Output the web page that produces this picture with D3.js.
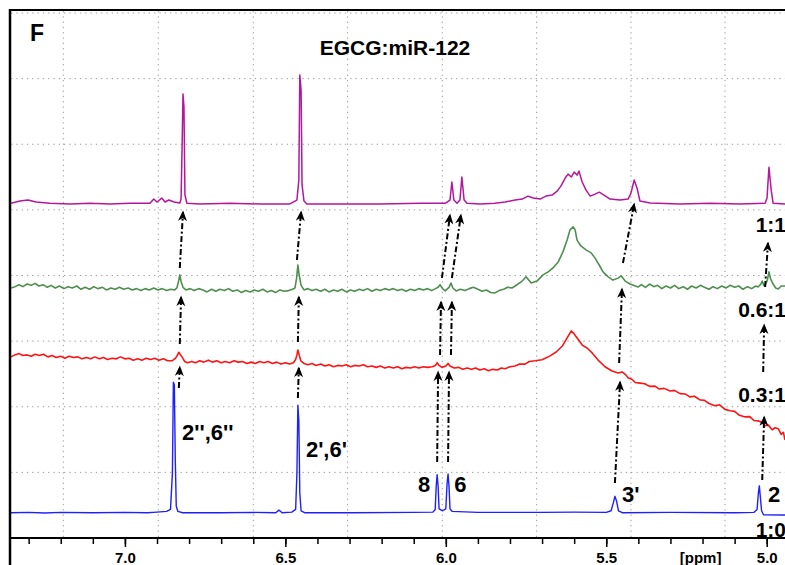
<!DOCTYPE html>
<html>
<head>
<meta charset="utf-8">
<script src="https://cdn.jsdelivr.net/npm/d3@7"></script>
<style>
  body { margin: 0; background: #fff; }
  svg { display: block; font-family: "Liberation Sans", Arial, sans-serif; }
</style>
</head>
<body>
<svg id="chart" width="785" height="565"></svg>
<script>
// spectra as [ppm, intensity] (intensity in grid units, relative to each trace's offset)
const spec10 = [
  [7.36,0],[7.30,0.05],[7.25,-0.05],[7.20,0.05],[7.10,0],[7.00,0.05],[6.93,0],[6.90,0.1],[6.87,0.2],
  [6.858,0.5],[6.852,6],[6.849,19.9],[6.846,19.5],[6.843,8],[6.840,1],[6.835,0.2],[6.82,0],[6.70,0],
  [6.60,0.05],[6.53,0],[6.52,0.4],[6.51,0],[6.48,0.1],[6.468,0.5],[6.464,6],[6.461,16.4],[6.458,14],
  [6.455,3],[6.451,0.3],[6.44,0],[6.30,0],[6.10,0.05],[6.04,0.1],[6.033,0.5],[6.030,4],[6.027,5.8],
  [6.024,4],[6.021,0.6],[6.010,0.3],[6.000,0.6],[5.996,4.5],[5.993,5.9],[5.990,4],[5.987,0.6],[5.98,0.2],
  [5.90,0.05],[5.70,0.05],[5.60,0.1],[5.50,0.05],[5.485,0.3],[5.478,1.5],[5.473,2.5],[5.468,1.8],
  [5.462,0.3],[5.45,0],[5.30,0.05],[5.10,0],[5.04,0.05],[5.03,0.5],[5.026,3],[5.023,4.1],[5.020,2.5],
  [5.016,0.3],[5.01,-0.3],[4.94,-0.35]
];
const spec031 = [
  [7.355,0],[7.343,0.3],[7.33,0.5],[7.318,0.2],[7.305,0.3],[7.292,0.1],[7.28,0.4],[7.267,0.2],[7.254,0.4],
  [7.24,0],[7.227,0.2],[7.214,-0.1],[7.2,0.1],[7.187,-0.2],[7.174,0.1],[7.16,-0.1],[7.147,0],[7.134,-0.3],
  [7.12,-0.1],[7.107,-0.3],[7.094,0],[7.08,-0.3],[7.067,-0.1],[7.054,-0.4],[7.04,-0.2],[7.027,-0.3],
  [7.014,0],[7.0,-0.3],[6.987,-0.2],[6.974,-0.5],[6.96,-0.3],[6.947,-0.5],[6.934,-0.2],[6.92,-0.4],
  [6.907,-0.2],[6.894,-0.5],[6.88,-0.3],[6.867,-0.6],[6.853,-0.6],[6.842,-0.2],[6.836,0.3],[6.832,0.7],
  [6.828,0.4],[6.822,0],[6.814,-0.7],[6.805,-0.9],[6.792,-0.7],[6.78,-0.9],[6.767,-0.6],[6.754,-0.8],
  [6.74,-0.5],[6.727,-0.8],[6.714,-0.6],[6.7,-0.9],[6.687,-0.7],[6.674,-0.9],[6.66,-0.6],[6.647,-0.8],
  [6.634,-0.7],[6.62,-1.0],[6.607,-0.8],[6.594,-1.0],[6.58,-0.7],[6.567,-0.9],[6.554,-0.7],[6.54,-1.0],
  [6.527,-0.8],[6.514,-1.1],[6.5,-0.9],[6.487,-1.1],[6.475,-0.9],[6.468,-0.4],[6.464,0.3],[6.461,1.05],
  [6.457,0.3],[6.452,-0.6],[6.442,-1.0],[6.43,-1.2],[6.417,-1.0],[6.404,-1.3],[6.39,-1.1],[6.377,-1.4],
  [6.364,-1.2],[6.35,-1.5],[6.337,-1.3],[6.324,-1.4],[6.31,-1.2],[6.297,-1.5],[6.284,-1.3],[6.27,-1.4],
  [6.257,-1.2],[6.244,-1.5],[6.23,-1.4],[6.217,-1.6],[6.204,-1.4],[6.19,-1.7],[6.177,-1.5],[6.164,-1.7],
  [6.15,-1.5],[6.137,-1.8],[6.124,-1.6],[6.11,-1.7],[6.097,-1.5],[6.084,-1.7],[6.07,-1.5],[6.057,-1.6],
  [6.043,-1.5],[6.032,-1.3],[6.027,-0.9],[6.021,-1.3],[6.012,-1.6],[6.0,-1.4],[5.993,-1.0],[5.987,-1.4],
  [5.974,-1.7],[5.96,-1.6],[5.947,-1.9],[5.934,-1.7],[5.92,-1.9],[5.907,-1.7],[5.894,-2.0],[5.88,-1.8],
  [5.867,-2.1],[5.854,-1.9],[5.84,-2.0],[5.827,-1.7],[5.815,-1.8],[5.80,-1.5],[5.784,-1.4],[5.77,-1.1],
  [5.753,-1.1],[5.74,-0.7],[5.722,-0.6],[5.70,-0.45],[5.675,0.15],[5.656,0.75],[5.637,1.65],[5.622,2.9],
  [5.609,3.95],[5.60,3.5],[5.588,2.7],[5.575,1.8],[5.56,1.35],[5.544,0.6],[5.526,-0.45],[5.504,-1.5],
  [5.482,-2.15],[5.463,-2.45],[5.451,-2.3],[5.44,-2.7],[5.432,-3.2],[5.42,-3.4],[5.41,-3.9],[5.395,-4.0],
  [5.38,-4.1],[5.365,-4.5],[5.348,-4.45],[5.335,-4.9],[5.32,-4.8],[5.301,-5.2],[5.288,-5.1],[5.27,-5.6],
  [5.254,-5.65],[5.24,-6.1],[5.225,-6.0],[5.208,-6.55],[5.195,-6.6],[5.18,-7.1],[5.161,-7.45],[5.147,-7.3],
  [5.13,-8.0],[5.114,-8.2],[5.1,-8.3],[5.085,-8.9],[5.067,-9.15],[5.053,-9.1],[5.04,-9.7],[5.027,-9.75],
  [5.015,-10.0],[5.005,-10.5],[4.995,-10.4],[4.983,-11.1],[4.974,-10.8],[4.964,-10.95],[4.955,-11.8],
  [4.948,-11.5],[4.943,-12.65]
];
const spec061 = [
  [7.355,0],[7.342,0.2],[7.33,0.5],[7.318,0.2],[7.305,0.6],[7.292,0.4],[7.28,0.7],[7.268,0.3],[7.255,0.5],
  [7.242,0.1],[7.23,0.4],[7.217,0],[7.204,0.3],[7.19,-0.1],[7.177,0.2],[7.164,0],[7.15,0.3],[7.137,-0.2],
  [7.124,0.1],[7.11,-0.2],[7.097,0.2],[7.084,-0.1],[7.07,0.1],[7.057,-0.3],[7.044,0],[7.03,-0.2],
  [7.017,0.1],[7.004,-0.2],[6.99,0],[6.977,-0.3],[6.964,-0.1],[6.95,-0.4],[6.937,-0.1],[6.924,-0.3],
  [6.91,0],[6.897,-0.3],[6.884,-0.1],[6.87,-0.4],[6.857,-0.2],[6.845,-0.3],[6.838,0],[6.832,1.2],
  [6.829,2.0],[6.825,1.0],[6.819,0.1],[6.81,-0.3],[6.797,-0.1],[6.784,-0.4],[6.77,-0.1],[6.757,-0.3],
  [6.744,-0.6],[6.73,-0.2],[6.717,-0.5],[6.704,-0.2],[6.69,-0.4],[6.677,-0.1],[6.664,-0.5],[6.65,-0.3],
  [6.637,-0.7],[6.624,-0.4],[6.61,-0.6],[6.597,-0.3],[6.584,-0.5],[6.57,-0.2],[6.557,-0.6],[6.544,-0.4],
  [6.53,-0.7],[6.517,-0.3],[6.504,-0.5],[6.49,-0.4],[6.478,-0.2],[6.47,0],[6.465,1.5],[6.461,3.5],
  [6.457,2.0],[6.451,0.4],[6.442,-0.3],[6.43,-0.1],[6.417,-0.4],[6.404,-0.2],[6.39,-0.5],[6.377,-0.2],
  [6.364,-0.6],[6.35,-0.3],[6.337,-0.5],[6.324,-0.2],[6.31,-0.6],[6.297,-0.3],[6.284,-0.5],[6.27,-0.2],
  [6.257,-0.4],[6.244,-0.1],[6.23,-0.5],[6.217,-0.2],[6.204,-0.4],[6.19,-0.1],[6.177,-0.3],[6.164,-0.1],
  [6.15,-0.4],[6.137,-0.2],[6.124,-0.5],[6.11,-0.2],[6.097,-0.4],[6.084,-0.1],[6.07,-0.3],[6.057,-0.1],
  [6.044,-0.4],[6.032,-0.1],[6.024,0.1],[6.018,0.5],[6.012,0],[6.002,-0.45],[5.99,0.1],[5.984,0.75],
  [5.978,0],[5.968,-0.45],[5.955,-0.2],[5.94,-0.4],[5.927,-0.1],[5.914,0.1],[5.9,-0.2],[5.887,-0.5],
  [5.874,-0.3],[5.86,-0.7],[5.847,-0.75],[5.834,-0.4],[5.82,-0.2],[5.807,0.1],[5.794,0],[5.784,0.3],
  [5.762,1.05],[5.75,1.7],[5.734,0.75],[5.716,1.05],[5.697,2.0],[5.681,2.45],[5.666,3.05],[5.65,3.95],
  [5.635,5.5],[5.622,7.3],[5.613,8.85],[5.603,9.3],[5.597,8.85],[5.591,7.3],[5.579,6.4],[5.563,5.8],
  [5.547,5.35],[5.535,4.55],[5.522,3.5],[5.51,2.45],[5.494,1.7],[5.479,1.2],[5.463,1.5],[5.454,1.85],
  [5.441,1.05],[5.426,0.6],[5.401,0.15],[5.39,0.5],[5.378,0.1],[5.365,0.6],[5.352,0.2],[5.34,0.4],
  [5.327,-0.1],[5.314,0.3],[5.3,0],[5.287,0.4],[5.274,-0.1],[5.26,0.2],[5.247,-0.2],[5.234,0.3],[5.22,0],
  [5.207,0.4],[5.194,0.1],[5.18,-0.2],[5.167,0.2],[5.154,-0.1],[5.14,0.3],[5.127,0],[5.114,0.4],[5.1,0.1],
  [5.087,0.3],[5.074,-0.2],[5.06,0.2],[5.047,-0.1],[5.034,0.3],[5.027,0.15],[5.018,0.6],[5.014,1.05],
  [5.009,0.4],[5.005,0.45],[4.998,1.2],[4.993,2.45],[4.988,1.4],[4.98,0.6],[4.972,0],[4.964,-0.15],
  [4.955,0.3],[4.943,0.3]
];
const spec11 = [
  [7.355,0],[7.327,0.35],[7.302,0.5],[7.277,0.2],[7.234,0],[7.171,-0.1],[7.109,0],[7.047,-0.1],[6.984,0],
  [6.922,0],[6.91,0.65],[6.90,0.2],[6.885,0.8],[6.875,0.2],[6.863,0.5],[6.847,0.2],[6.829,0.05],
  [6.825,0.65],[6.822,8.1],[6.819,16.65],[6.816,14.7],[6.813,1.3],[6.807,0],[6.766,-0.1],[6.673,0],
  [6.579,-0.1],[6.486,-0.1],[6.464,0.5],[6.458,3.55],[6.455,19.55],[6.451,17.25],[6.448,2.8],[6.442,0.35],
  [6.433,-0.1],[6.33,-0.1],[6.205,-0.1],[6.08,0],[6.002,0],[5.987,0.5],[5.981,3.25],[5.975,0.5],
  [5.965,0],[5.956,0.5],[5.95,4.0],[5.943,0.5],[5.934,0],[5.893,-0.1],[5.847,0],[5.815,0.2],[5.784,0.5],
  [5.762,0.65],[5.744,1.1],[5.728,0.8],[5.706,0.65],[5.688,1.1],[5.669,1.25],[5.653,1.85],[5.641,2.65],
  [5.628,3.85],[5.619,4.45],[5.609,4.0],[5.60,4.75],[5.591,4.3],[5.585,4.9],[5.575,3.25],[5.563,2.0],
  [5.55,1.1],[5.535,1.4],[5.522,1.7],[5.507,1.25],[5.488,0.65],[5.457,0.5],[5.432,0.65],[5.423,1.55],
  [5.413,3.55],[5.404,2.3],[5.395,0.35],[5.363,0.05],[5.27,-0.1],[5.176,0],[5.083,-0.1],[5.005,0],
  [4.999,0.8],[4.993,5.5],[4.986,2.0],[4.98,0],[4.943,-0.1]
];

const traceNames   = ["1:0", "0.3:1", "0.6:1", "1:1"];
const traceOffsets = [3.85, 27.6, 38.1, 51.0];
const traceColors  = ["#1f1fff", "#ff1414", "#4e8f4e", "#b4169e"];
const traceWidths  = [1.4, 1.6, 1.6, 1.5];
const traceLabelY  = [0.15, 20.72, 33.68, 46.63];

// peak labels: text, ppm, height
const peakLabels = [
  ["2'',6''", 6.822, 14.93],
  ["2',6'", 6.436, 12.34],
  ["8", 6.087, 7.0],
  ["6", 5.974, 7.0],
  ["3'", 5.451, 5.49],
  ["2", 4.996, 5.49]
];

// arrows: ppm1, y1, ppm2, y2
const arrows = [
  [6.832,22.86,6.829,26.06],[6.461,21.33,6.458,25.9],[6.027,11.58,6.024,25.3],[5.993,11.58,5.99,25.3],
  [5.473,8.38,5.457,23.77],[5.014,8.84,5.008,18.44],
  [6.829,29.56,6.825,36.72],[6.461,29.87,6.458,36.72],[6.018,27.89,6.015,35.96],[5.984,27.89,5.981,35.96],
  [5.46,26.67,5.451,37.94],[5.011,25.3,5.008,32.46],
  [6.829,41.14,6.819,49.68],[6.464,42.36,6.451,49.68],[6.012,39.62,5.987,49.22],[5.981,39.62,5.953,49.22],
  [5.448,41.9,5.413,50.91],[5.005,38.25,4.996,44.95]
];

const gridPpm = [7.192, 6.896, 6.600, 6.306, 6.011, 5.717, 5.423, 5.130];
const gridY = [0, 10, 20, 30, 40, 50, 60, 70, 80];
const minorTicks = d3.range(73, 49, -1).map(d => d / 10);
const majorTicks = [7.0, 6.5, 6.0, 5.5, 5.0];

function renderSpectra(){
    const svg = d3.select("#chart");
    const left = 11, right = 785, top = 13, bottom = 538;

    const x = d3.scaleLinear().domain([7.355, 4.943]).range([left, right]);
    const y = d3.scaleLinear().domain([0, 80]).range([bottom, top]);

    svg.append("defs").append("clipPath").attr("id", "plotClip")
      .append("rect").attr("x", left).attr("y", 11).attr("width", right - left).attr("height", bottom - 11);

    const marker = svg.select("defs").append("marker")
        .attr("id", "head")
        .attr("markerUnits", "userSpaceOnUse")
        .attr("viewBox", "-12 -6 14 12")
        .attr("markerWidth", 14).attr("markerHeight", 12)
        .attr("refX", 0).attr("refY", 0)
        .attr("orient", "auto");
    marker.append("path").attr("d", "M1.5,0 L-9,-4.5 L-6,0 L-9,4.5 Z").attr("fill", "#000");

    // grid
    svg.append("g").selectAll("line").data(gridPpm).enter().append("line")
        .attr("x1", d => x(d)).attr("x2", d => x(d))
        .attr("y1", 11).attr("y2", bottom)
        .attr("stroke", "#9a9a9a").attr("stroke-width", 1).attr("stroke-dasharray", "1.3,4");
    svg.append("g").selectAll("line").data(gridY).enter().append("line")
        .attr("x1", left).attr("x2", right)
        .attr("y1", d => y(d)).attr("y2", d => y(d))
        .attr("stroke", "#9a9a9a").attr("stroke-width", 1).attr("stroke-dasharray", "1.3,4");

    // spectra
    const spectra = [spec10, spec031, spec061, spec11];
    const gS = svg.append("g").attr("clip-path", "url(#plotClip)");
    spectra.forEach((data, i) => {
        gS.append("path")
            .datum(data)
            .attr("fill", "none")
            .attr("stroke", traceColors[i])
            .attr("stroke-width", traceWidths[i])
            .attr("stroke-linejoin", "round")
            .attr("d", d3.line()
                .x(d => x(d[0]))
                .y(d => y(d[1] + traceOffsets[i]))
            );
    });

    // arrows
    svg.append("g").selectAll("line").data(arrows).enter().append("line")
        .attr("x1", d => x(d[0])).attr("y1", d => y(d[1]))
        .attr("x2", d => x(d[2])).attr("y2", d => y(d[3]))
        .attr("stroke", "#000").attr("stroke-width", 2)
        .attr("stroke-dasharray", "6,2.5,2,2.5")
        .attr("marker-end", "url(#head)");

    // peak labels
    svg.append("g").selectAll("text").data(peakLabels).enter().append("text")
        .attr("x", d => x(d[1])).attr("y", d => y(d[2]))
        .attr("font-size", 22).attr("font-weight", "bold")
        .text(d => d[0]);

    // ratio labels
    svg.append("g").selectAll("text").data(traceNames).enter().append("text")
        .attr("x", right + 1).attr("y", (d, i) => y(traceLabelY[i]))
        .attr("text-anchor", "end")
        .attr("font-size", 21).attr("font-weight", "bold")
        .text(d => d);

    // axis
    svg.append("g")
        .attr("transform", "translate(0," + bottom + ")")
        .call(d3.axisBottom(x).tickValues(minorTicks).tickSize(6).tickFormat(""))
        .call(g => g.select(".domain").remove())
        .call(g => g.selectAll("line").attr("stroke", "#000").attr("stroke-width", 1.5));
    svg.append("g")
        .attr("transform", "translate(0," + bottom + ")")
        .call(d3.axisBottom(x).tickValues(majorTicks).tickSize(9).tickPadding(5).tickFormat(d3.format(".1f")))
        .call(g => g.select(".domain").remove())
        .call(g => g.selectAll("line").attr("stroke", "#000").attr("stroke-width", 1.5))
        .call(g => g.selectAll("text")
            .attr("font-size", 15).attr("font-weight", "bold")
            .attr("font-family", "Liberation Sans, Arial, sans-serif").attr("fill", "#000"));

    svg.append("text")
        .attr("x", x(5.206)).attr("y", 563)
        .attr("text-anchor", "middle")
        .attr("font-size", 15).attr("font-weight", "bold")
        .text("[ppm]");

    // frame
    svg.append("line").attr("x1", 10).attr("x2", 785).attr("y1", bottom).attr("y2", bottom)
        .attr("stroke", "#000").attr("stroke-width", 2);
    svg.append("line").attr("x1", 9).attr("x2", 785).attr("y1", 10).attr("y2", 10)
        .attr("stroke", "#000").attr("stroke-width", 2);
    svg.append("line").attr("x1", 10).attr("x2", 10).attr("y1", 9).attr("y2", 565)
        .attr("stroke", "#000").attr("stroke-width", 2.5);

    svg.append("text")
        .attr("x", 30).attr("y", 41)
        .attr("font-size", 23).attr("font-weight", "bold")
        .text("F");
    svg.append("text")
        .attr("x", 395).attr("y", 55)
        .attr("text-anchor", "middle")
        .attr("font-size", 21).attr("font-weight", "bold")
        .text("EGCG:miR-122");
}

renderSpectra();
</script>
</body>
</html>
